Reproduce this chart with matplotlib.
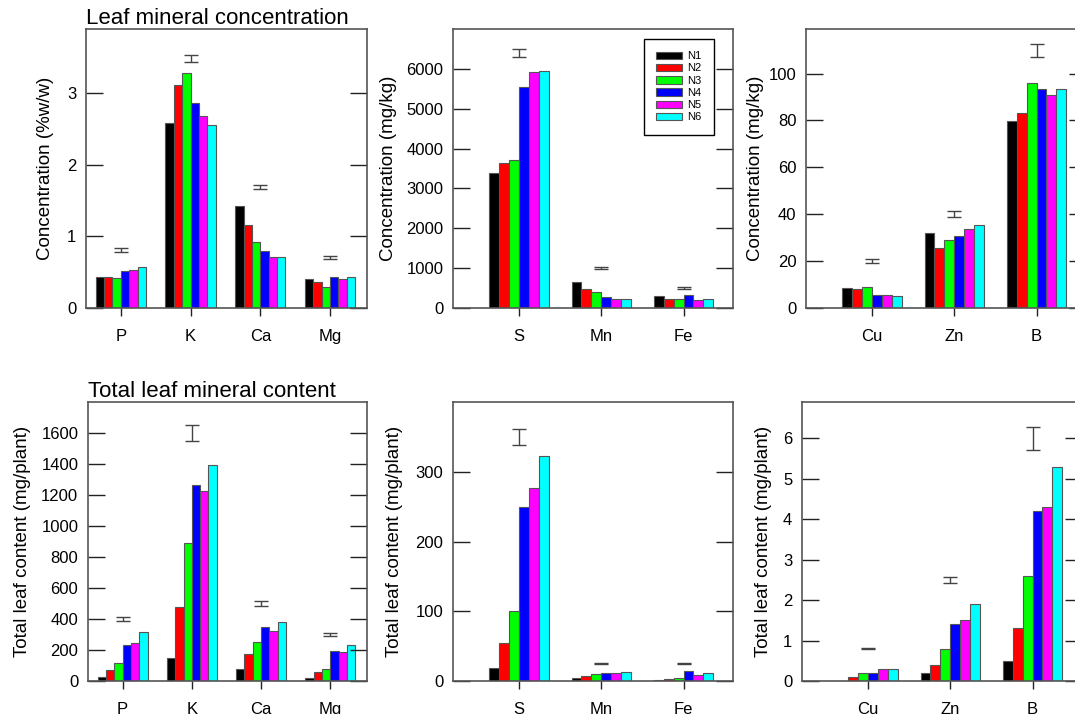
import numpy as np
import matplotlib
matplotlib.use('Agg')
import matplotlib.pyplot as plt

plt.rcParams['font.family'] = ['Liberation Sans', 'DejaVu Sans']

# treatments and colours
treatments = ['N1', 'N2', 'N3', 'N4', 'N5', 'N6']
colors = ['#000000', '#ff0000', '#00ff00', '#0000ff', '#ff00ff', '#00ffff']

macro = ['P', 'K', 'Ca', 'Mg']
micro1 = ['S', 'Mn', 'Fe']
micro2 = ['Cu', 'Zn', 'B']

# leaf mineral concentration, rows = N1..N6
conc_macro = [
    [0.44, 2.59, 1.42, 0.40],
    [0.44, 3.12, 1.16, 0.37],
    [0.42, 3.29, 0.92, 0.30],
    [0.52, 2.87, 0.79, 0.43],
    [0.53, 2.69, 0.71, 0.41],
    [0.57, 2.56, 0.71, 0.43],
]
conc_macro_err = [0.81, 3.49, 1.69, 0.71]
conc_macro_half = [0.03, 0.045, 0.03, 0.02]

conc_micro1 = [
    [3389, 661, 310],
    [3640, 477, 226],
    [3715, 393, 226],
    [5556, 276, 318],
    [5916, 234, 209],
    [5941, 234, 234],
]
conc_micro1_err = [6400, 1000, 500]
conc_micro1_half = [110, 25, 25]

conc_micro2 = [
    [8.4, 32.2, 79.6],
    [8.0, 25.5, 83.1],
    [9.1, 29.2, 95.9],
    [5.7, 30.9, 93.6],
    [5.7, 33.5, 91.0],
    [5.3, 35.3, 93.5],
]
conc_micro2_err = [20, 40, 110]
conc_micro2_half = [0.7, 1.2, 2.8]

# total leaf mineral content
cont_macro = [
    [26, 149, 80, 22],
    [69, 476, 177, 56],
    [114, 889, 250, 78],
    [230, 1264, 351, 192],
    [243, 1225, 321, 185],
    [314, 1393, 383, 235],
]
cont_macro_err = [400, 1600, 500, 300]
cont_macro_half = [15, 50, 15, 12]

cont_micro1 = [
    [19, 4, 2],
    [55, 7, 3],
    [100, 10, 5],
    [249, 12, 14],
    [276, 11, 9],
    [323, 13, 12],
]
cont_micro1_err = [350, 25, 25]
cont_micro1_half = [12, 0.5, 1]

cont_micro2 = [
    [0.0, 0.2, 0.5],
    [0.1, 0.4, 1.3],
    [0.2, 0.8, 2.6],
    [0.2, 1.4, 4.2],
    [0.3, 1.5, 4.3],
    [0.3, 1.9, 5.3],
]
cont_micro2_err = [0.8, 2.5, 6.0]
cont_micro2_half = [0.01, 0.08, 0.28]

W, H = 1075, 714
BW = 0.12


def make_panel(rect, groups, data, emid, ehalf, ylim, ystep, xlim, ylabel, labx):
    l, t, r, b = rect
    ax = fig.add_axes([l / W, 1 - b / H, (r - l) / W, (b - t) / H])
    x = np.arange(1, len(groups) + 1)
    for i, vals in enumerate(data):
        ax.bar(x + (i - 2.5) * BW, vals, BW, color=colors[i],
               edgecolor='#555555', linewidth=0.8, label=treatments[i])
    ax.errorbar(x, emid, yerr=ehalf, fmt='none', ecolor='#444444',
                elinewidth=1, capsize=5, capthick=1)
    ax.set_xlim(*xlim)
    ax.set_ylim(0, ylim)
    ax.set_yticks(np.arange(0, ylim, ystep))
    ax.set_xticks(x)
    ax.set_xticklabels(groups)
    ax.tick_params(axis='y', direction='in', length=12, width=1, left=True,
                   right=True, labelsize=12, color='#222222', pad=7)
    ax.tick_params(axis='x', direction='out', length=6, width=1,
                   labelsize=12, pad=9, color='#222222')
    for s in ax.spines.values():
        s.set_color('#555555')
        s.set_linewidth(1.2)
    ax.set_ylabel(ylabel, fontsize=13.5)
    ax.yaxis.set_label_coords(labx, 0.5)
    return ax


fig = plt.figure(figsize=(10.75, 7.14), dpi=100)

ax1 = make_panel((86, 29, 367, 308), macro, conc_macro, conc_macro_err, conc_macro_half,
                 3.9, 1, (0.5, 4.53), 'Concentration (%w/w)', -0.114)
ax1.set_title('Leaf mineral concentration', loc='left', fontsize=16, pad=3)

ax2 = make_panel((453, 29, 733, 308), micro1, conc_micro1, conc_micro1_err, conc_micro1_half,
                 7000, 1000, (0.2, 3.6), 'Concentration (mg/kg)', -0.2)
leg = ax2.legend(loc='upper right', bbox_to_anchor=(0.932, 0.964), borderaxespad=0,
                 fontsize=8, fancybox=False, edgecolor='black', framealpha=1,
                 handlelength=2.3, handleheight=0.65, labelspacing=0.2,
                 handletextpad=0.5, borderpad=1.1)
leg.get_frame().set_linewidth(1)

ax3 = make_panel((806, 29, 1086, 308), micro2, conc_micro2, conc_micro2_err, conc_micro2_half,
                 119, 20, (0.2, 3.6), 'Concentration (mg/kg)', -0.15)

ax4 = make_panel((88, 402, 367, 681), macro, cont_macro, cont_macro_err, cont_macro_half,
                 1800, 200, (0.5, 4.53), 'Total leaf content (mg/plant)', -0.204)
ax4.set_title('Total leaf mineral content', loc='left', fontsize=16, pad=3)

ax5 = make_panel((453, 402, 733, 681), micro1, cont_micro1, cont_micro1_err, cont_micro1_half,
                 400, 100, (0.2, 3.6), 'Total leaf content (mg/plant)', -0.179)

ax6 = make_panel((802, 402, 1082, 681), micro2, cont_micro2, cont_micro2_err, cont_micro2_half,
                 6.9, 1, (0.2, 3.6), 'Total leaf content (mg/plant)', -0.107)

fig.savefig('out.png', dpi=100)
